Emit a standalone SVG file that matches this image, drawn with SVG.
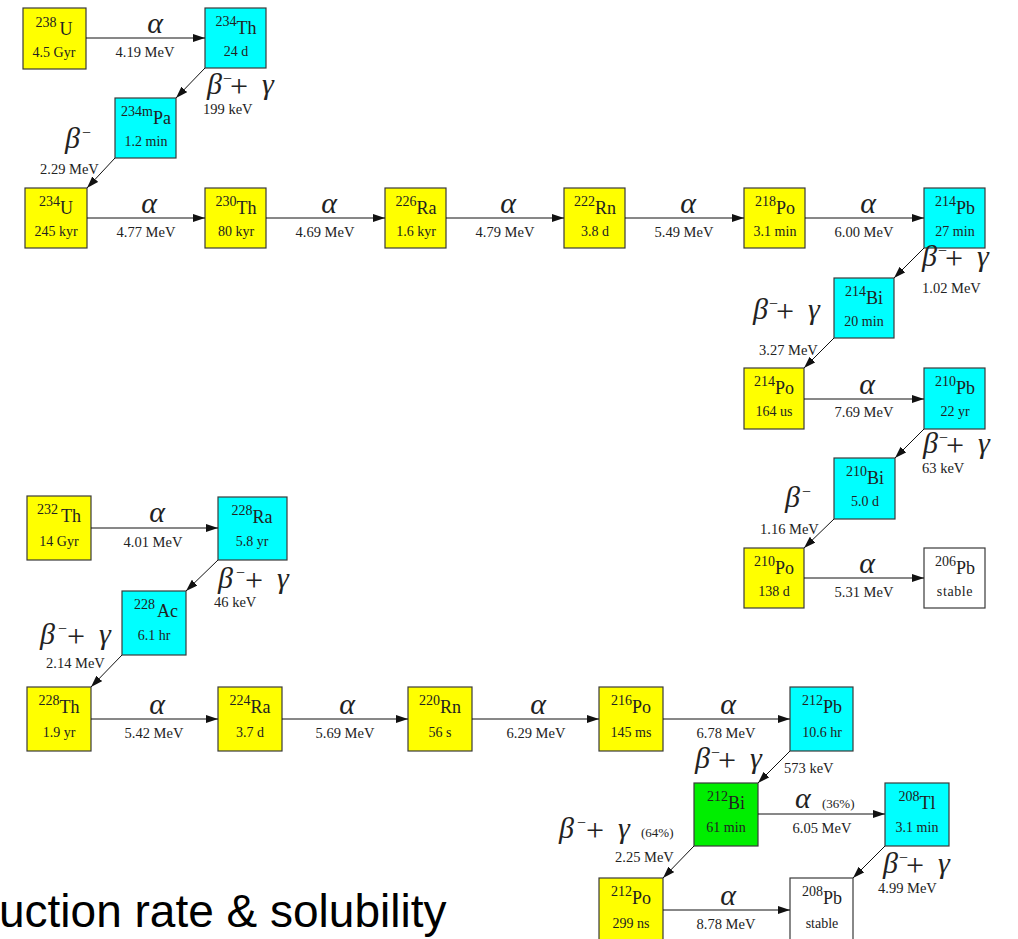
<svg xmlns="http://www.w3.org/2000/svg" width="1018" height="939" viewBox="0 0 1018 939">
<style>
.box{stroke:#3a3a3a;stroke-width:1.2}
.y{fill:#ffff00}.c{fill:#00ffff}.gn{fill:#00ee00}.w{fill:#ffffff}
.t{font-family:"Liberation Serif",serif;fill:#222;text-anchor:middle}
.sup{font-size:14px}.el{font-size:18px}.hl{font-size:14px}
.lab{font-family:"Liberation Serif",serif;font-size:14.5px;fill:#222}
.mid{text-anchor:middle}
.gr{font-family:"Liberation Serif",serif;font-style:italic;font-size:30px;fill:#222}
.mn{font-family:"Liberation Serif",serif;font-size:16px;fill:#222}
.pl{font-family:"Liberation Serif",serif;font-size:32px;fill:#222}
.pc{font-family:"Liberation Serif",serif;font-size:13px;fill:#222}
.big{font-family:"Liberation Sans",Arial,sans-serif;font-size:46px;fill:#000}
.cn line{stroke:#111;stroke-width:1;marker-end:url(#ah)}
</style>
<defs>
<marker id="ah" viewBox="0 0 12 8" refX="12" refY="4" markerWidth="12" markerHeight="8" markerUnits="userSpaceOnUse" orient="auto"><path d="M0,0 L12,4 L0,8 z" fill="#111"/></marker>
</defs>
<rect width="1018" height="939" fill="#fff"/>

<!-- nodes -->
<g id="U238"><rect class="box y" x="23" y="8" width="63" height="61"/><text class="t" x="54" y="35"><tspan class="sup" dy="-8">238</tspan><tspan class="el" dy="8" dx="3">U</tspan></text><text class="t hl" x="54" y="57">4.5 Gyr</text></g>
<g id="Th234"><rect class="box c" x="205" y="8" width="61" height="60"/><text class="t" x="236" y="34"><tspan class="sup" dy="-8">234</tspan><tspan class="el" dy="8">Th</tspan></text><text class="t hl" x="236" y="56">24 d</text></g>
<g id="Pa234m"><rect class="box c" x="115" y="98" width="61" height="60"/><text class="t" x="146" y="124"><tspan class="sup" dy="-8">234m</tspan><tspan class="el" dy="8">Pa</tspan></text><text class="t hl" x="146" y="146">1.2 min</text></g>
<g id="U234"><rect class="box y" x="25" y="188" width="62" height="60"/><text class="t" x="56" y="214"><tspan class="sup" dy="-8">234</tspan><tspan class="el" dy="8">U</tspan></text><text class="t hl" x="56" y="236">245 kyr</text></g>
<g id="Th230"><rect class="box y" x="205" y="188" width="61" height="60"/><text class="t" x="236" y="214"><tspan class="sup" dy="-8">230</tspan><tspan class="el" dy="8">Th</tspan></text><text class="t hl" x="236" y="236">80 kyr</text></g>
<g id="Ra226"><rect class="box y" x="385" y="188" width="61" height="60"/><text class="t" x="416" y="214"><tspan class="sup" dy="-8">226</tspan><tspan class="el" dy="8">Ra</tspan></text><text class="t hl" x="416" y="236">1.6 kyr</text></g>
<g id="Rn222"><rect class="box y" x="564" y="188" width="61" height="60"/><text class="t" x="595" y="214"><tspan class="sup" dy="-8">222</tspan><tspan class="el" dy="8">Rn</tspan></text><text class="t hl" x="595" y="236">3.8 d</text></g>
<g id="Po218"><rect class="box y" x="744" y="188" width="61" height="60"/><text class="t" x="775" y="214"><tspan class="sup" dy="-8">218</tspan><tspan class="el" dy="8">Po</tspan></text><text class="t hl" x="775" y="236">3.1 min</text></g>
<g id="Pb214"><rect class="box c" x="924" y="188" width="61" height="60"/><text class="t" x="955" y="214"><tspan class="sup" dy="-8">214</tspan><tspan class="el" dy="8">Pb</tspan></text><text class="t hl" x="955" y="236">27 min</text></g>
<g id="Bi214"><rect class="box c" x="834" y="278" width="60" height="60"/><text class="t" x="864" y="304"><tspan class="sup" dy="-8">214</tspan><tspan class="el" dy="8">Bi</tspan></text><text class="t hl" x="864" y="326">20 min</text></g>
<g id="Po214"><rect class="box y" x="744" y="368" width="60" height="61"/><text class="t" x="774" y="394"><tspan class="sup" dy="-8">214</tspan><tspan class="el" dy="8">Po</tspan></text><text class="t hl" x="774" y="416">164 us</text></g>
<g id="Pb210"><rect class="box c" x="924" y="368" width="61" height="61"/><text class="t" x="955" y="394"><tspan class="sup" dy="-8">210</tspan><tspan class="el" dy="8">Pb</tspan></text><text class="t hl" x="955" y="416">22 yr</text></g>
<g id="Bi210"><rect class="box c" x="834" y="458" width="61" height="61"/><text class="t" x="865" y="484"><tspan class="sup" dy="-8">210</tspan><tspan class="el" dy="8">Bi</tspan></text><text class="t hl" x="865" y="506">5.0 d</text></g>
<g id="Po210"><rect class="box y" x="744" y="548" width="60" height="60"/><text class="t" x="774" y="574"><tspan class="sup" dy="-8">210</tspan><tspan class="el" dy="8">Po</tspan></text><text class="t hl" x="774" y="596">138 d</text></g>
<g id="Pb206"><rect class="box w" x="924" y="548" width="61" height="60"/><text class="t" x="955" y="574"><tspan class="sup" dy="-8">206</tspan><tspan class="el" dy="8">Pb</tspan></text><text class="t hl" x="955" y="596" letter-spacing="0.6">stable</text></g>
<g id="Th232"><rect class="box y" x="27" y="496" width="64" height="64"/><text class="t" x="59" y="522"><tspan class="sup" dy="-8">232</tspan><tspan class="el" dy="8" dx="3">Th</tspan></text><text class="t hl" x="59" y="546">14 Gyr</text></g>
<g id="Ra228"><rect class="box c" x="218" y="497" width="69" height="63"/><text class="t" x="252" y="523"><tspan class="sup" dy="-8">228</tspan><tspan class="el" dy="8">Ra</tspan></text><text class="t hl" x="252" y="546">5.8 yr</text></g>
<g id="Ac228"><rect class="box c" x="122" y="591" width="64" height="64"/><text class="t" x="156" y="617"><tspan class="sup" dy="-8">228</tspan><tspan class="el" dy="8" dx="2">Ac</tspan></text><text class="t hl" x="154" y="640">6.1 hr</text></g>
<g id="Th228"><rect class="box y" x="27" y="687" width="64" height="64"/><text class="t" x="59" y="713"><tspan class="sup" dy="-8">228</tspan><tspan class="el" dy="8">Th</tspan></text><text class="t hl" x="59" y="737">1.9 yr</text></g>
<g id="Ra224"><rect class="box y" x="218" y="687" width="64" height="64"/><text class="t" x="250" y="713"><tspan class="sup" dy="-8">224</tspan><tspan class="el" dy="8">Ra</tspan></text><text class="t hl" x="250" y="737">3.7 d</text></g>
<g id="Rn220"><rect class="box y" x="408" y="687" width="64" height="64"/><text class="t" x="440" y="713"><tspan class="sup" dy="-8">220</tspan><tspan class="el" dy="8">Rn</tspan></text><text class="t hl" x="440" y="737">56 s</text></g>
<g id="Po216"><rect class="box y" x="599" y="687" width="64" height="64"/><text class="t" x="631" y="713"><tspan class="sup" dy="-8">216</tspan><tspan class="el" dy="8">Po</tspan></text><text class="t hl" x="631" y="737">145 ms</text></g>
<g id="Pb212"><rect class="box c" x="790" y="687" width="63" height="64"/><text class="t" x="822" y="713"><tspan class="sup" dy="-8">212</tspan><tspan class="el" dy="8">Pb</tspan></text><text class="t hl" x="822" y="737">10.6 hr</text></g>
<g id="Bi212"><rect class="box gn" x="694" y="783" width="64" height="63"/><text class="t" x="726" y="809"><tspan class="sup" dy="-8">212</tspan><tspan class="el" dy="8">Bi</tspan></text><text class="t hl" x="726" y="832">61 min</text></g>
<g id="Tl208"><rect class="box c" x="885" y="783" width="64" height="63"/><text class="t" x="917" y="809"><tspan class="sup" dy="-8">208</tspan><tspan class="el" dy="8">Tl</tspan></text><text class="t hl" x="917" y="832">3.1 min</text></g>
<g id="Po212"><rect class="box y" x="599" y="878" width="64" height="70"/><text class="t" x="631" y="904"><tspan class="sup" dy="-8">212</tspan><tspan class="el" dy="8">Po</tspan></text><text class="t hl" x="631" y="928">299 ns</text></g>
<g id="Pb208"><rect class="box w" x="790" y="878" width="63" height="70"/><text class="t" x="822" y="904"><tspan class="sup" dy="-8">208</tspan><tspan class="el" dy="8">Pb</tspan></text><text class="t hl" x="822" y="928">stable</text></g>

<!-- connectors -->
<g id="connectors" class="cn">
<line x1="86" y1="38" x2="205" y2="38"/>
<line x1="205" y1="68" x2="176" y2="98"/>
<line x1="115" y1="158" x2="87" y2="188"/>
<line x1="87" y1="218" x2="205" y2="218"/>
<line x1="266" y1="218" x2="385" y2="218"/>
<line x1="446" y1="218" x2="564" y2="218"/>
<line x1="625" y1="218" x2="744" y2="218"/>
<line x1="805" y1="218" x2="924" y2="218"/>
<line x1="924" y1="248" x2="894" y2="278"/>
<line x1="834" y1="338" x2="804" y2="368"/>
<line x1="804" y1="399" x2="924" y2="399"/>
<line x1="924" y1="429" x2="895" y2="458"/>
<line x1="834" y1="519" x2="804" y2="548"/>
<line x1="804" y1="578" x2="924" y2="578"/>
<line x1="91" y1="528" x2="218" y2="528"/>
<line x1="218" y1="560" x2="186" y2="591"/>
<line x1="122" y1="655" x2="91" y2="687"/>
<line x1="91" y1="719" x2="218" y2="719"/>
<line x1="282" y1="719" x2="408" y2="719"/>
<line x1="472" y1="719" x2="599" y2="719"/>
<line x1="663" y1="719" x2="790" y2="719"/>
<line x1="790" y1="751" x2="758" y2="783"/>
<line x1="758" y1="814" x2="885" y2="814"/>
<line x1="694" y1="846" x2="663" y2="878"/>
<line x1="885" y1="846" x2="853" y2="878"/>
<line x1="663" y1="910" x2="790" y2="910"/>
</g>

<!-- alpha labels -->
<g id="alpha-labels">
<text class="gr mid" x="155" y="33">α</text><text class="lab mid" x="145" y="57">4.19 MeV</text>
<text class="gr mid" x="149" y="213">α</text><text class="lab mid" x="146" y="237">4.77 MeV</text>
<text class="gr mid" x="329" y="213">α</text><text class="lab mid" x="325" y="237">4.69 MeV</text>
<text class="gr mid" x="508" y="213">α</text><text class="lab mid" x="505" y="237">4.79 MeV</text>
<text class="gr mid" x="688" y="213">α</text><text class="lab mid" x="684" y="237">5.49 MeV</text>
<text class="gr mid" x="868" y="213">α</text><text class="lab mid" x="864" y="237">6.00 MeV</text>
<text class="gr mid" x="867" y="394">α</text><text class="lab mid" x="864" y="417">7.69 MeV</text>
<text class="gr mid" x="867" y="573">α</text><text class="lab mid" x="864" y="597">5.31 MeV</text>
<text class="gr mid" x="157" y="522">α</text><text class="lab mid" x="153" y="547">4.01 MeV</text>
<text class="gr mid" x="157" y="714">α</text><text class="lab mid" x="154" y="738">5.42 MeV</text>
<text class="gr mid" x="347" y="714">α</text><text class="lab mid" x="345" y="738">5.69 MeV</text>
<text class="gr mid" x="538" y="714">α</text><text class="lab mid" x="536" y="738">6.29 MeV</text>
<text class="gr mid" x="728" y="714">α</text><text class="lab mid" x="726" y="738">6.78 MeV</text>
<text class="gr" x="795" y="808">α</text><text class="pc" x="822" y="808">(36%)</text><text class="lab mid" x="822" y="833">6.05 MeV</text>
<text class="gr mid" x="728" y="905">α</text><text class="lab mid" x="726" y="929">8.78 MeV</text>
</g>

<!-- beta labels -->
<g id="beta-labels">
<g transform="translate(207,94)"><text class="gr">β</text><text class="mn" x="16" y="-10">−</text><text class="pl" x="23" y="3">+</text><text class="gr" x="55">γ</text></g>
<text class="lab" x="203" y="114">199 keV</text>
<g transform="translate(65,148)"><text class="gr">β</text><text class="mn" x="17" y="-10">−</text></g>
<text class="lab" x="40" y="174">2.29 MeV</text>
<g transform="translate(922,266)"><text class="gr">β</text><text class="mn" x="16" y="-10">−</text><text class="pl" x="23" y="3">+</text><text class="gr" x="55">γ</text></g>
<text class="lab" x="922" y="293">1.02 MeV</text>
<g transform="translate(753,319)"><text class="gr">β</text><text class="mn" x="16" y="-10">−</text><text class="pl" x="23" y="3">+</text><text class="gr" x="55">γ</text></g>
<text class="lab" x="759" y="355">3.27 MeV</text>
<g transform="translate(923,453)"><text class="gr">β</text><text class="mn" x="16" y="-10">−</text><text class="pl" x="23" y="3">+</text><text class="gr" x="55">γ</text></g>
<text class="lab" x="922" y="473">63 keV</text>
<g transform="translate(785,507)"><text class="gr">β</text><text class="mn" x="17" y="-10">−</text></g>
<text class="lab" x="760" y="534">1.16 MeV</text>
<g transform="translate(218,588)"><text class="gr">β</text><text class="mn" x="18" y="-10">−</text><text class="pl" x="27" y="3">+</text><text class="gr" x="59">γ</text></g>
<text class="lab" x="214" y="607">46 keV</text>
<g transform="translate(40,644)"><text class="gr">β</text><text class="mn" x="18" y="-10">−</text><text class="pl" x="27" y="3">+</text><text class="gr" x="59">γ</text></g>
<text class="lab" x="46" y="668">2.14 MeV</text>
<g transform="translate(695,768)"><text class="gr">β</text><text class="mn" x="16" y="-10">−</text><text class="pl" x="23" y="3">+</text><text class="gr" x="55">γ</text></g>
<text class="lab" x="784" y="773">573 keV</text>
<g transform="translate(559,838)"><text class="gr">β</text><text class="mn" x="18" y="-10">−</text><text class="pl" x="27" y="3">+</text><text class="gr" x="59">γ</text><text class="pc" x="82" y="-1">(64%)</text></g>
<text class="lab" x="615" y="862">2.25 MeV</text>
<g transform="translate(883,873)"><text class="gr">β</text><text class="mn" x="16" y="-10">−</text><text class="pl" x="23" y="3">+</text><text class="gr" x="55">γ</text></g>
<text class="lab" x="878" y="893">4.99 MeV</text>
</g>

<text class="big" x="-1" y="927">uction rate &amp; solubility</text>
</svg>
